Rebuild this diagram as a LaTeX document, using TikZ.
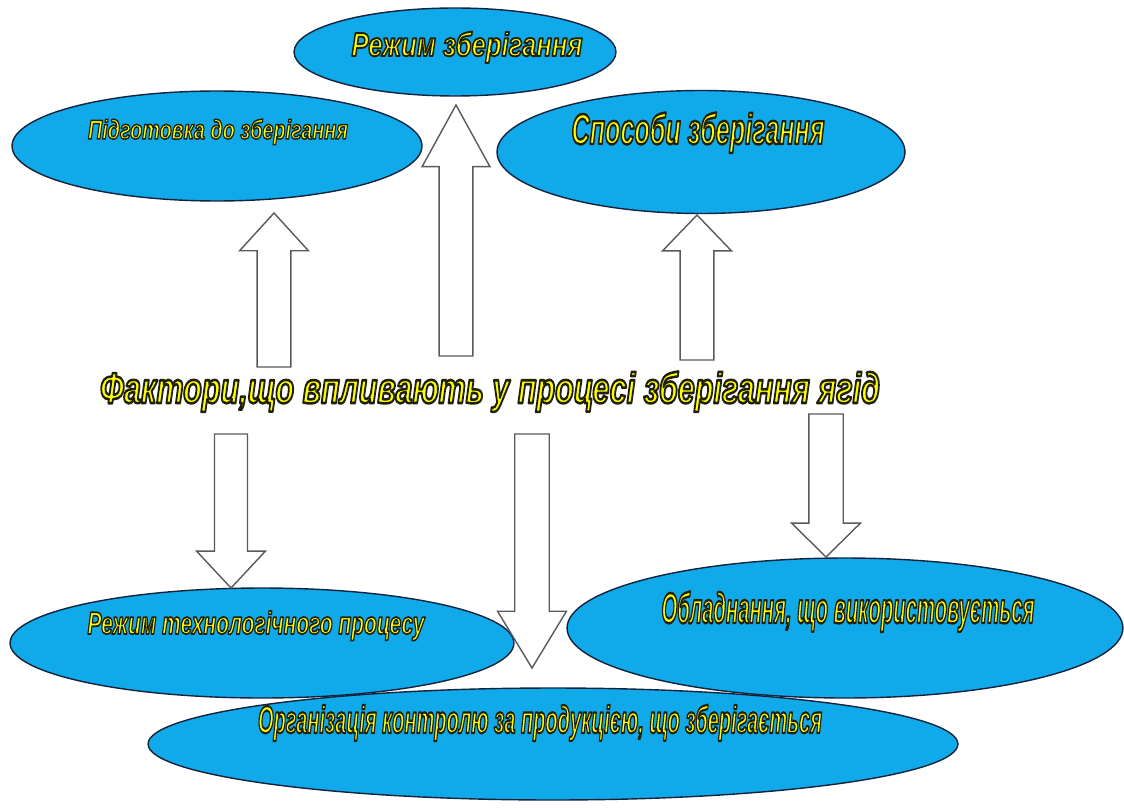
\documentclass[tikz,border=0pt]{standalone}
\usepackage{fontspec}
\usepackage{graphicx}
\usetikzlibrary{shapes.geometric}
\newfontfamily\lblfont{Liberation Sans}
\definecolor{ellfill}{RGB}{16,170,234}
\definecolor{elldraw}{RGB}{20,35,60}
\definecolor{arrdraw}{RGB}{90,90,90}
\definecolor{txtyellow}{RGB}{255,255,0}
\newcommand\outlined[4]{%
  \resizebox{#1}{\height}{\fontsize{#2}{#2}\lblfont\bfseries\itshape\selectfont
    \color{txtyellow}\special{pdf:literal direct 0.12 0.12 0.05 RG 2 Tr #3 w 1 j}#4}}
\newcommand\blockarrow[5]{%
  \draw[blockarr] ([xshift=-#3]#1) -- ([xshift=#3]#1) -- ([xshift=#3,yshift=#5]#2)
    -- ([xshift=#4,yshift=#5]#2) -- (#2) -- ([xshift=-#4,yshift=#5]#2)
    -- ([xshift=-#3,yshift=#5]#2) -- cycle;}
\begin{document}
\begin{tikzpicture}[x=0.02cm,y=-0.02cm,
  ell/.style={ellipse,draw=elldraw,fill=ellfill,line width=0.8pt,inner sep=0pt},
  lbl/.style={inner sep=0pt,anchor=base},
  blockarr/.style={draw=arrdraw,fill=white,line width=0.8pt,line join=miter}]
\useasboundingbox (0,0) rectangle (1124,807);
\fill[white] (0,0) rectangle (1124,807);

% ellipses
\node[ell,minimum width=6.44cm,minimum height=1.76cm] (e1) at (455,52) {};
\node[ell,minimum width=8.2cm,minimum height=2.2cm] (e2) at (217,146) {};
\node[ell,minimum width=8.16cm,minimum height=2.46cm] (e3) at (701,152) {};
\node[ell,minimum width=16.2cm,minimum height=2.24cm] (e6) at (553,744) {};
\node[ell,minimum width=10.08cm,minimum height=2.2cm] (e4) at (262,643) {};
\node[ell,minimum width=11.12cm,minimum height=2.8cm] (e5) at (845,628) {};

% labels
\node[lbl] (t1) at (467,56) {\outlined{4.62cm}{19}{1.1}{Режим зберігання}};
\node[lbl] (t2) at (218,139) {\outlined{5.2cm}{15.5}{0.85}{Підготовка до зберігання}};
\node[lbl] (t3) at (698,144) {\outlined{5.06cm}{24.5}{1.4}{Способи зберігання}};
\node[lbl] (t4) at (256,634) {\outlined{6.74cm}{18}{1.0}{Режим технологічного процесу}};
\node[lbl] (t5) at (848,623) {\outlined{7.46cm}{24.5}{1.4}{Обладнання, що використовується}};
\node[lbl] (t6) at (540,733) {\outlined{11.28cm}{22}{1.25}{Організація контролю за продукцією, що зберігається}};
\node[lbl] (main) at (490,403) {\outlined{15.6cm}{24.5}{1.45}{Фактори,що впливають у процесі зберігання ягід}};

% arrow end points
\coordinate (aA) at (274,367); \coordinate (bA) at (274,213);
\coordinate (aB) at (456,356); \coordinate (bB) at (456,105);
\coordinate (aC) at (697,360); \coordinate (bC) at (697,215);
\coordinate (aD) at (231,434); \coordinate (bD) at (231,588);
\coordinate (aE) at (532,434); \coordinate (bE) at (532,668);
\coordinate (aF) at (826,414); \coordinate (bF) at (826,557);

\blockarrow{aA}{bA}{9.6pt}{19.6pt}{-21.5pt}
\blockarrow{aB}{bB}{9.6pt}{19.3pt}{-35.1pt}
\blockarrow{aC}{bC}{9.6pt}{19.6pt}{-20.4pt}
\blockarrow{aD}{bD}{9.4pt}{19.6pt}{21pt}
\blockarrow{aE}{bE}{9.8pt}{19.6pt}{32.3pt}
\blockarrow{aF}{bF}{9.8pt}{19.6pt}{19.3pt}
\end{tikzpicture}
\end{document}
